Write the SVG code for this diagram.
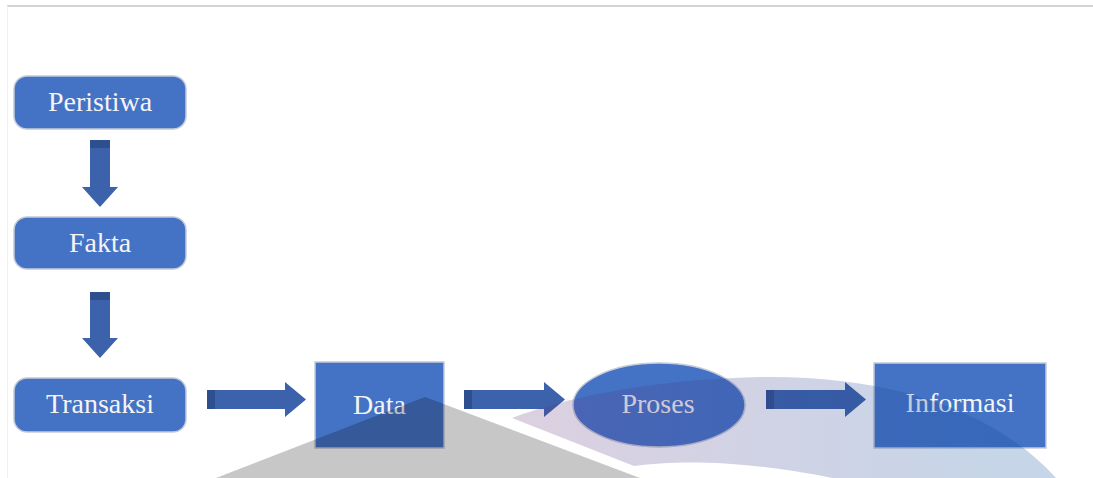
<svg xmlns="http://www.w3.org/2000/svg" width="1093" height="478" viewBox="0 0 1093 478">
  <style>
    .box { fill: #4472c4; stroke: #c3cad8; stroke-width: 1.5; }
    .label { font-family: "Liberation Serif", "Times New Roman", serif; font-size: 28px; fill: #f4f4f4; text-anchor: middle; }
    .arrow { fill: #3b62aa; }
    .arrow-cap { fill: #2d4f8e; }
  </style>
  <defs>
    <linearGradient id="bandFill" gradientUnits="userSpaceOnUse" x1="512" y1="0" x2="1000" y2="0">
      <stop offset="0" stop-color="#683478"/>
      <stop offset="0.45" stop-color="#3a3f8c"/>
      <stop offset="1" stop-color="#0a4a9c"/>
    </linearGradient>
  </defs>

  <rect width="1093" height="478" fill="#ffffff"/>

  <!-- page frame -->
  <line x1="7" y1="6" x2="1093" y2="6" stroke="#c4c4c4" stroke-width="1.5"/>
  <line x1="7.5" y1="6" x2="7.5" y2="478" stroke="#f0f0f0" stroke-width="1"/>

  <!-- connectors -->
  <g id="connectors">
    <g id="peristiwa-fakta">
      <polygon class="arrow" points="90,140 110,140 110,187 118,187 100,207 82,187 90,187"/>
      <rect class="arrow-cap" x="90" y="140" width="20" height="8"/>
    </g>
    <g id="fakta-transaksi">
      <polygon class="arrow" points="90,292 110,292 110,338 118,338 100,358 82,338 90,338"/>
      <rect class="arrow-cap" x="90" y="292" width="20" height="8"/>
    </g>
    <g id="transaksi-data">
      <polygon class="arrow" points="207,390 285,390 285,382 306,399.5 285,417 285,409 207,409"/>
      <rect class="arrow-cap" x="207" y="390" width="8" height="19"/>
    </g>
    <g id="data-proses">
      <polygon class="arrow" points="464,390 544,390 544,382 565,399.5 544,417 544,409 464,409"/>
      <rect class="arrow-cap" x="464" y="390" width="8" height="19"/>
    </g>
    <g id="proses-informasi">
      <polygon class="arrow" points="766,390 845,390 845,382 866,399.5 845,417 845,409 766,409"/>
      <rect class="arrow-cap" x="766" y="390" width="8" height="19"/>
    </g>
  </g>

  <!-- nodes -->
  <g id="peristiwa">
    <rect class="box" x="14" y="76" width="172" height="53" rx="13"/>
    <text class="label" x="100" y="111">Peristiwa</text>
  </g>
  <g id="fakta">
    <rect class="box" x="14" y="217" width="172" height="52" rx="13"/>
    <text class="label" x="100" y="252">Fakta</text>
  </g>
  <g id="transaksi">
    <rect class="box" x="14" y="378" width="172" height="54" rx="13"/>
    <text class="label" x="100" y="413">Transaksi</text>
  </g>
  <g id="data">
    <rect class="box" x="315" y="362" width="129" height="86"/>
    <text class="label" x="379.5" y="414">Data</text>
  </g>
  <g id="proses">
    <ellipse class="box" cx="659" cy="405" rx="86" ry="42"/>
    <text class="label" x="658" y="413">Proses</text>
  </g>
  <g id="informasi">
    <rect class="box" x="874" y="363" width="172" height="85"/>
    <text class="label" x="960" y="412">Informasi</text>
  </g>

  <!-- translucent backdrop shapes lying over the flow -->
  <g id="backdrop">
    <path d="M425,397 L640,478 L216,478 Z" fill="#000000" fill-opacity="0.22"/>
    <path d="M512,418 C560,400 640,380 760,377 C880,375 990,405 1056,478 L832,478 C740,460 680,460 634,466 Z" fill="url(#bandFill)" fill-opacity="0.23"/>
  </g>
</svg>
